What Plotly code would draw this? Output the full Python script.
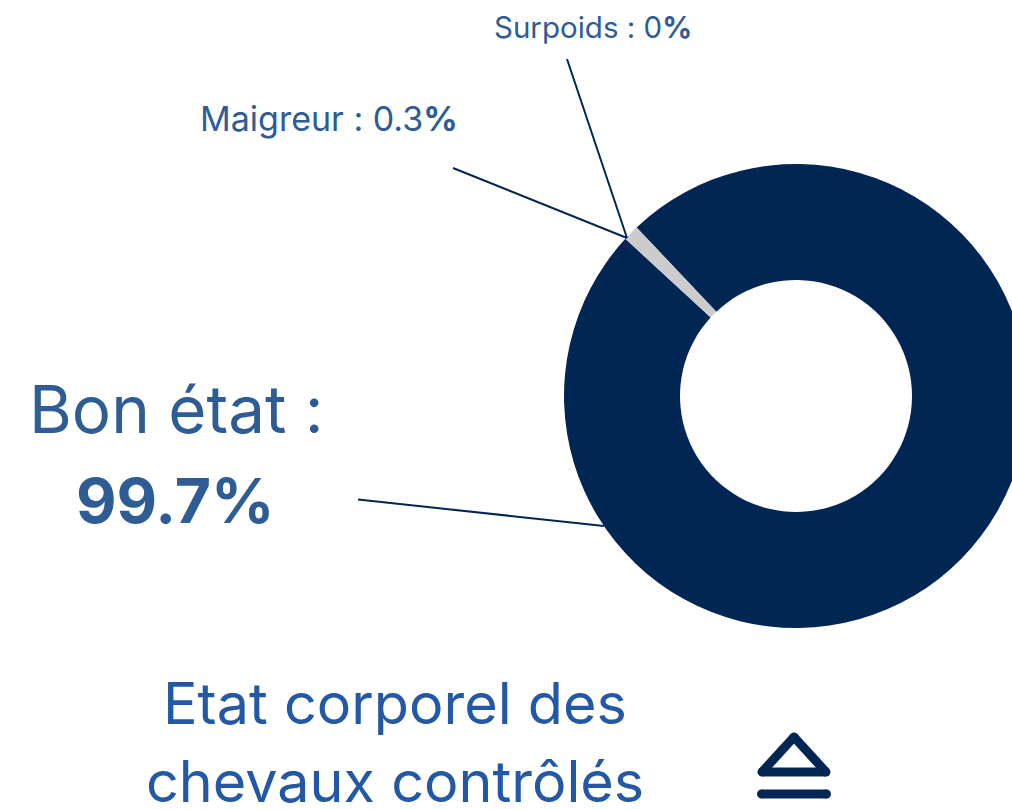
import plotly.graph_objects as go

# Data
slice_labels = ["Bon état", "Maigreur", "Surpoids"]
slice_values = [98.9, 1.1, 0.0]
slice_colors = ["#022654", "#cccccc", "#e0e0e0"]

W, H = 1040, 809
CX, CY, R = 796, 396, 232
NAVY = "#022654"
TEXT = "#2e5c94"
TITLE = "#2258a5"


def px(x):
    return x / W


def py(y):
    return 1 - y / H


fig = go.Figure(
    go.Pie(
        labels=slice_labels,
        values=slice_values,
        marker=dict(colors=slice_colors, line=dict(width=0)),
        hole=0.5,
        sort=False,
        direction="clockwise",
        rotation=-43.4,
        textinfo="none",
        hoverinfo="label+percent",
        showlegend=False,
        domain=dict(x=[px(CX - R), px(CX + R)], y=[py(CY + R), py(CY - R)]),
    )
)


def text(x, y, s, size, color=TEXT):
    fig.add_annotation(
        x=px(x), y=py(y), xref="paper", yref="paper", text=s, showarrow=False,
        xanchor="center", yanchor="middle",
        font=dict(family="Inter", size=size, color=color),
    )


def line(x0, y0, x1, y1, width=2):
    fig.add_shape(
        type="line", xref="paper", yref="paper",
        x0=px(x0), y0=py(y0), x1=px(x1), y1=py(y1),
        line=dict(color=NAVY, width=width),
    )


def dot(x, y, r):
    fig.add_shape(
        type="circle", xref="paper", yref="paper",
        x0=px(x - r), y0=py(y + r), x1=px(x + r), y1=py(y - r),
        line=dict(width=0), fillcolor=NAVY,
    )


text(592.5, 27.5, "Surpoids : 0<b>%</b>", 29.5)
text(328.5, 119, "Maigreur : 0.3<b>%</b>", 34)
text(176.5, 409.5, "Bon état :", 65.5)
text(175, 500, "<b>99.7%</b>", 62.5)
text(395, 703, "Etat corporel des", 57.5, TITLE)
text(395, 781, "chevaux contrôlés", 57.5, TITLE)

line(567, 59, 627, 238)
line(453, 168, 627, 238)
line(358, 499.5, 604, 526)

# Icon
tri = [(794, 737), (826, 772), (762, 772)]
for i in range(3):
    a, b = tri[i], tri[(i + 1) % 3]
    line(a[0], a[1], b[0], b[1], 9)
    dot(a[0], a[1], 4.5)
line(761.5, 794, 826.5, 794, 9)
dot(761.5, 794, 4.5)
dot(826.5, 794, 4.5)

fig.update_layout(
    width=W, height=H, autosize=False,
    margin=dict(l=0, r=0, t=0, b=0),
    paper_bgcolor="white", plot_bgcolor="white",
)
fig.write_html(
    "out.html",
    config={"displayModeBar": False},
    post_script=(
        "document.documentElement.style.overflow='hidden';"
        "document.body.style.overflow='hidden';"
        "document.body.style.margin='0';"
        "var s=document.createElement('style');"
        "s.textContent='svg text{font-feature-settings:\"calt\" 0;}';"
        "document.head.appendChild(s);"
    ),
)
